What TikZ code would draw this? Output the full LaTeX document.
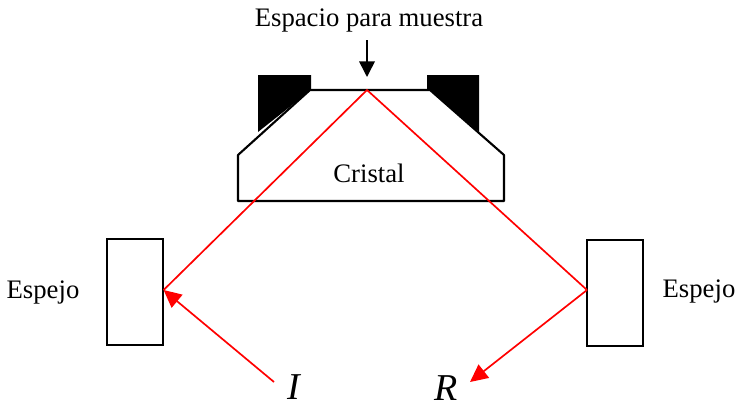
\documentclass[tikz,border=0pt]{standalone}
\usepackage{fontspec}
\setmainfont{Liberation Serif}
\usetikzlibrary{arrows.meta,calc,positioning}

\begin{document}
\begin{tikzpicture}[
      espejo/.style={draw, line width=1.5pt, minimum width=1.41cm, minimum height=2.65cm, inner sep=0pt},
      etiqueta/.style={inner sep=0pt, font=\fontsize{19}{22}\selectfont},
      simbolo/.style={inner sep=0pt, font=\fontsize{27}{30}\selectfont\itshape},
      rayo/.style={draw=red, line width=1.2pt},
      rayoflecha/.style={rayo, -{Triangle[length=4.4mm,width=4.2mm]}},
      flecha/.style={-{Triangle[length=3.9mm,width=3.9mm]}, line width=1.1pt}
  ]
    \useasboundingbox (0,0) rectangle (18.4,10.175);

    % soportes
    \fill (6.45,8.3) -- (7.775,8.3) -- (7.775,7.925) -- (6.45,6.875) -- cycle;
    \fill (10.675,8.3) -- (11.975,8.3) -- (11.975,6.875) -- (10.75,7.925) -- (10.675,7.925) -- cycle;

    % cristal
    \draw[line width=1.5pt, line join=round] (7.75,7.925) -- (10.75,7.925) -- (12.6,6.3) -- (12.6,5.15)
      -- (5.95,5.15) -- (5.95,6.3) -- cycle;
    \node[etiqueta] (cristal) at (9.225,5.85) {Cristal};

    % espejos
    \node[espejo] (espejoI) at (3.38,2.875) {};
    \node[espejo] (espejoD) at (15.375,2.85) {};
    \node[etiqueta] (txtI) at (1.075,2.875) {Espejo};
    \node[etiqueta] (txtD) at (17.475,2.9) {Espejo};

    % muestra
    \node[etiqueta] (muestra) at (9.225,9.675) {Espacio para muestra};
    \coordinate (apex) at (9.175,7.925);
    \coordinate (tope) at (9.175,8.25);
    \coordinate (salida) at (9.175,9.175);
    \draw[flecha] (salida) -- (tope);

    % rayos
    \node[simbolo] (I) at (7.35,0.5) {I};
    \node[simbolo] (R) at (11.15,0.47) {R};
    \coordinate (golpeI) at (4.09,2.925);
    \coordinate (golpeD) at (14.675,2.925);
    \coordinate (inicio) at (6.85,0.625);
    \coordinate (fin) at (11.75,0.625);
    \draw[rayoflecha] (inicio) -- (golpeI);
    \draw[rayo] (golpeI) -- (apex) -- (golpeD);
    \draw[rayoflecha] (golpeD) -- (fin);
\end{tikzpicture}
\end{document}
